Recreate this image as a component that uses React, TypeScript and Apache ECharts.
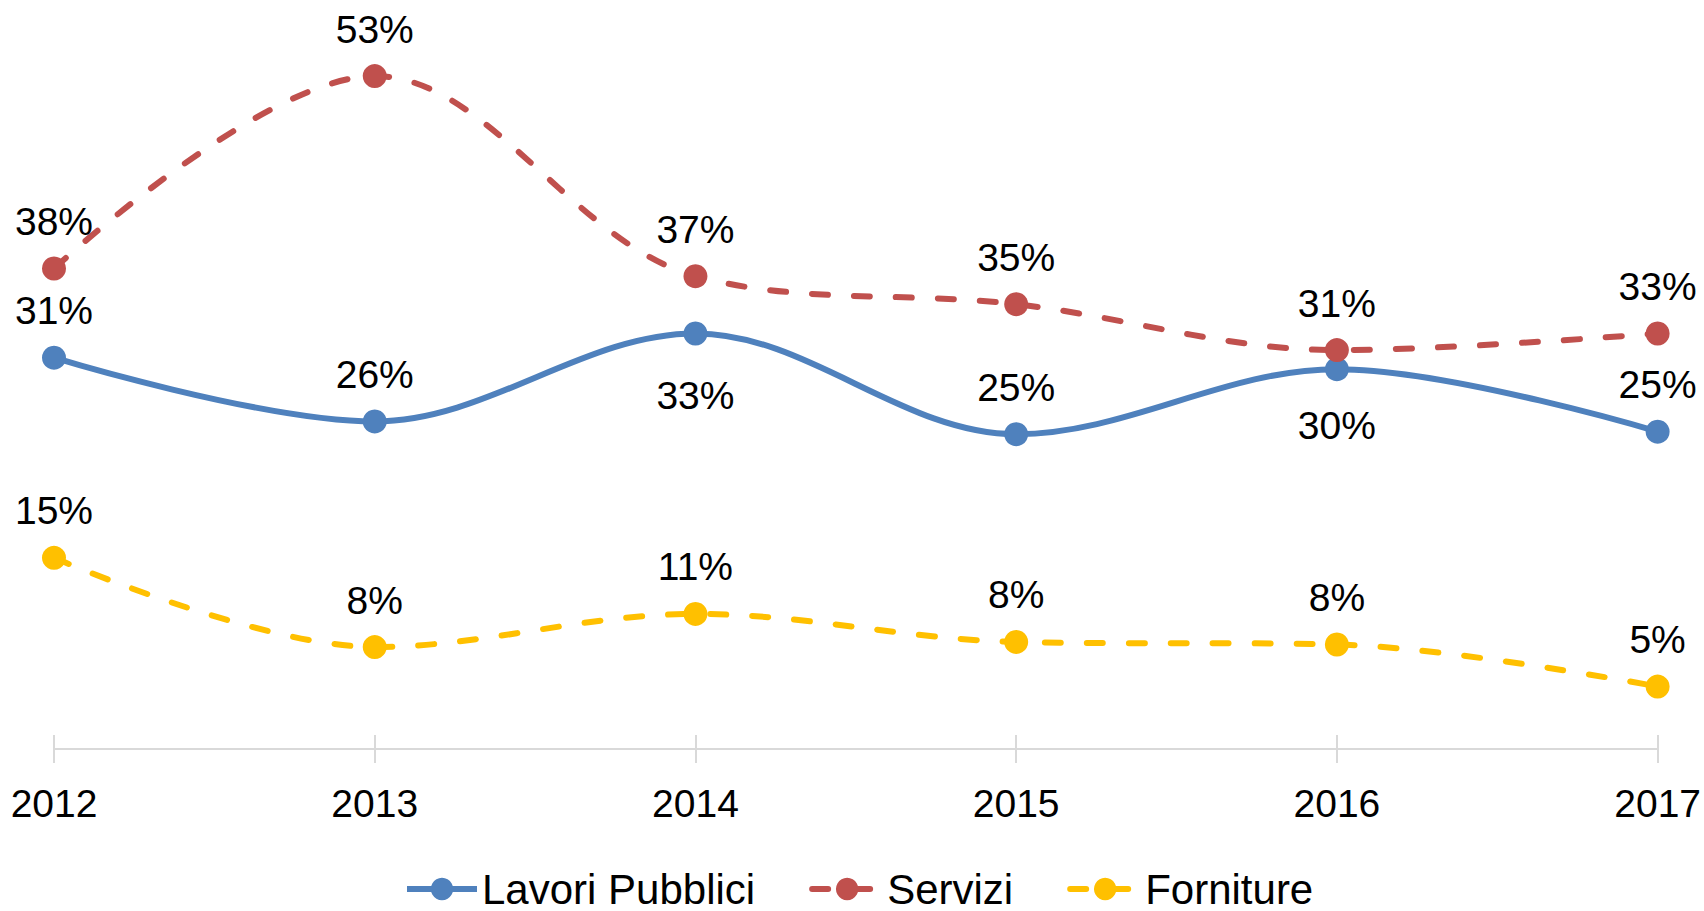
import React, { useEffect, useRef } from "react";
import * as echarts from "echarts";

const years = ["2012", "2013", "2014", "2015", "2016", "2017"];
const lavoriPubblici = [30.7, 25.7, 32.6, 24.7, 29.8, 24.9];
const servizi = [37.7, 52.8, 37.1, 34.9, 31.3, 32.6];
const forniture = [15.0, 8.0, 10.6, 8.4, 8.2, 4.9];
const seriesNames = ["Lavori Pubblici", "Servizi", "Forniture"];
const colors = ["#4F81BD", "#C0504D", "#FFC000"];
// indices of Lavori Pubblici points whose labels sit below the point, with distance
const lavoriBelow: Record<number, number> = { 2: 30, 4: 24 };

const FONT = "'Liberation Sans', Arial, sans-serif";

export default function App() {
  const ref = useRef<HTMLDivElement>(null);
  useEffect(() => {
    if (!ref.current) return;
    const chart = echarts.init(ref.current, null, { renderer: "svg" });
    const labelBase = {
      show: true,
      position: "top",
      distance: 15,
      fontSize: 39,
      lineHeight: 40,
      color: "#000",
      fontFamily: FONT,
      formatter: (p: any) => Math.round(p.value) + "%",
    };
    const mk = (name: string, values: number[], color: string, dashed: boolean, below?: Record<number, number>) => ({
      name,
      type: "line",
      smooth: 0.35,
      symbol: "circle",
      symbolSize: 24,
      xAxisIndex: 0,
      itemStyle: { color },
      lineStyle: dashed
        ? { color, width: 6, type: [16, 26], cap: "round" }
        : { color, width: 6 },
      label: labelBase,
      data: values.map((v, i) =>
        below && below[i] !== undefined
          ? { value: v, label: { position: "bottom", distance: below[i] } }
          : v
      ),
      z: 3,
    });
    chart.setOption({
      animation: false,
      backgroundColor: "#fff",
      grid: { left: 54, right: 45, top: 48, bottom: 162, containLabel: false },
      legend: {
        left: 404,
        top: 868,
        padding: 0,
        itemWidth: 70,
        itemHeight: 28,
        itemGap: 54,
        lineStyle: { width: 6 },
        textStyle: { fontSize: 42, lineHeight: 40, color: "#000", fontFamily: FONT },
        data: seriesNames,
      },
      xAxis: [
        {
          type: "category",
          data: years,
          boundaryGap: false,
          axisLine: { onZero: false, lineStyle: { color: "#D9D9D9", width: 2 } },
          axisTick: { show: true, length: 14, inside: false, lineStyle: { color: "#D9D9D9", width: 2 } },
          axisLabel: { fontSize: 39, lineHeight: 40, margin: 34, color: "#000", fontFamily: FONT },
          splitLine: { show: false },
        },
        {
          type: "category",
          data: years,
          boundaryGap: false,
          position: "bottom",
          axisLine: { show: false, onZero: false },
          axisTick: { show: true, length: 14, inside: true, lineStyle: { color: "#D9D9D9", width: 2 } },
          axisLabel: { show: false },
          splitLine: { show: false },
        },
      ],
      yAxis: {
        type: "value",
        min: 0,
        max: 55,
        show: false,
        splitLine: { show: false },
      },
      series: [
        mk(seriesNames[0], lavoriPubblici, colors[0], false, lavoriBelow),
        mk(seriesNames[1], servizi, colors[1], true),
        mk(seriesNames[2], forniture, colors[2], true),
      ],
    });
    return () => chart.dispose();
  }, []);
  return (
    <div
      ref={ref}
      style={{ position: "absolute", left: 0, top: 0, width: 1704, height: 911, background: "#fff" }}
    />
  );
}
